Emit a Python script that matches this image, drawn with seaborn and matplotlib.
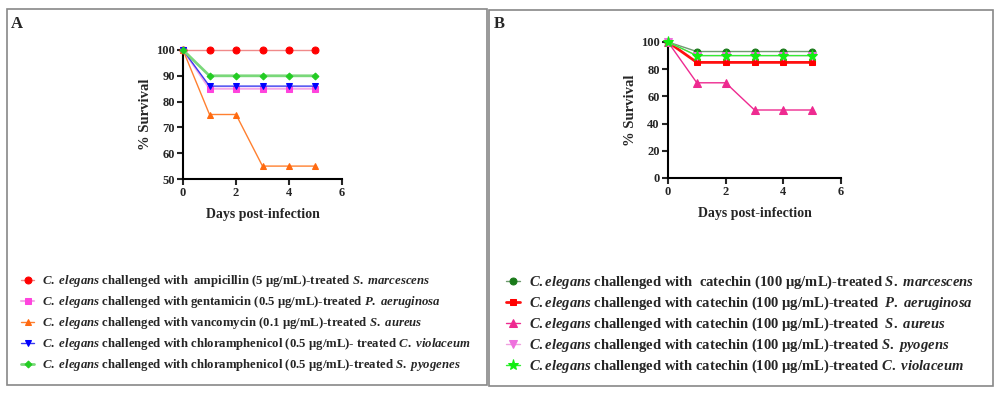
import pandas as pd
import seaborn as sns
import matplotlib.pyplot as plt
from matplotlib.patches import Rectangle

sns.set_style("white")
plt.rcParams['font.family'] = ['Liberation Serif', 'DejaVu Serif']
plt.rcParams['font.weight'] = 'bold'
plt.rcParams['mathtext.fontset'] = 'custom'
plt.rcParams['mathtext.rm'] = 'Liberation Serif:bold'
plt.rcParams['mathtext.it'] = 'Liberation Serif:italic:bold'

days = [0, 1, 2, 3, 4, 5]

# Panel A: antibiotic-treated pathogens
a_ampicillin = [100, 100, 100, 100, 100, 100]
a_gentamicin = [100, 85, 85, 85, 85, 85]
a_vancomycin = [100, 75, 75, 55, 55, 55]
a_chloram_cv = [100, 86, 86, 86, 86, 86]
a_chloram_sp = [100, 90, 90, 90, 90, 90]

a_labels = [
    r"$\mathit{C.\ elegans}$ challenged with  ampicillin (5 µg/mL)-treated $\mathit{S.\ marcescens}$",
    r"$\mathit{C.\ elegans}$ challenged with gentamicin (0.5 µg/mL)-treated $\mathit{P.\ aeruginosa}$",
    r"$\mathit{C.\ elegans}$ challenged with vancomycin (0.1 µg/mL)-treated $\mathit{S.\ aureus}$",
    r"$\mathit{C.\ elegans}$ challenged with chloramphenicol (0.5 µg/mL)- treated $\mathit{C.\ violaceum}$",
    r"$\mathit{C.\ elegans}$ challenged with chloramphenicol (0.5 µg/mL)-treated $\mathit{S.\ pyogenes}$",
]

# Panel B: catechin-treated pathogens
b_sm = [100, 93, 93, 93, 93, 93]
b_pa = [100, 85, 85, 85, 85, 85]
b_sa = [100, 70, 70, 50, 50, 50]
b_sp = [100, 90, 90, 90, 90, 90]
b_cv = [100, 90, 90, 90, 90, 90]

b_labels = [
    r"$\mathit{C.elegans}$ challenged with  catechin (100 µg/mL)-treated $\mathit{S.\ marcescens}$",
    r"$\mathit{C.elegans}$ challenged with catechin (100 µg/mL)-treated  $\mathit{P.\ aeruginosa}$",
    r"$\mathit{C.elegans}$ challenged with catechin (100 µg/mL)-treated  $\mathit{S.\ aureus}$",
    r"$\mathit{C.elegans}$ challenged with catechin (100 µg/mL)-treated $\mathit{S.\ pyogens}$",
    r"$\mathit{C.elegans}$ challenged with catechin (100 µg/mL)-treated $\mathit{C.\ violaceum}$",
]

# (values, line colour, marker colour, marker, marker size, line width)
a_series = [
    (a_ampicillin, '#f08a8a', '#ff0000', 'o', 5, 1.0),
    (a_gentamicin, '#f5a8e8', '#ff44dd', 's', 5, 1.5),
    (a_vancomycin, '#ff8030', '#ff6a10', '^', 4, 1.0),
    (a_chloram_cv, '#3a3af0', '#0000ff', 'v', 4, 1.0),
    (a_chloram_sp, '#7ad87a', '#22cc22', 'D', 3.5, 2.0),
]
b_series = [
    (b_sm, '#6f9a6f', '#1a7a1a', 'o', 5, 1.0),
    (b_pa, '#ff1010', '#ff0000', 's', 5, 2.0),
    (b_sa, '#ee2a90', '#ee2a90', '^', 6, 1.0),
    (b_sp, '#f0a0e0', '#ee70dd', 'v', 6, 1.0),
    (b_cv, '#33ee33', '#11ee11', '*', 8, 1.0),
]

fig = plt.figure(figsize=(10, 3.94), dpi=100)

# panel frames
fig.patches.append(Rectangle((0.007, 0.023), 0.480, 0.954, transform=fig.transFigure,
                             fill=False, edgecolor='#888888', linewidth=1.2))
fig.patches.append(Rectangle((0.489, 0.020), 0.504, 0.955, transform=fig.transFigure,
                             fill=False, edgecolor='#888888', linewidth=1.2))
fig.text(0.011, 0.94, 'A', fontsize=12, fontweight='bold', va='center')
fig.text(0.494, 0.94, 'B', fontsize=12, fontweight='bold', va='center')

ax_a = fig.add_axes([0.183, 1 - 179 / 394, 0.159, 129 / 394])
ax_b = fig.add_axes([0.668, 1 - 178 / 394, 0.173, 136 / 394])


def draw(ax, series, labels):
    for (vals, lc, mc, mk, ms, lw), lab in zip(series, labels):
        df = pd.DataFrame({'day': days, 'survival': vals})
        sns.lineplot(data=df, x='day', y='survival', ax=ax, color=lc, linewidth=lw,
                     marker=mk, markersize=ms, markerfacecolor=mc, markeredgecolor=mc,
                     label=lab, clip_on=False, zorder=3)
    ax.set_xlim(0, 6)
    ax.set_xticks([0, 2, 4, 6])
    ax.set_xlabel('Days post-infection', fontsize=10, fontweight='bold', labelpad=6)
    ax.set_ylabel('% Survival', fontsize=10.5, fontweight='bold', labelpad=3)
    for s in ['top', 'right']:
        ax.spines[s].set_visible(False)
    for s in ['left', 'bottom']:
        ax.spines[s].set_linewidth(1.5)
        ax.spines[s].set_color('black')
    ax.tick_params(axis='both', direction='out', length=4, width=1.5, labelsize=9,
                   pad=2, left=True, bottom=True)
    for t in ax.get_xticklabels() + ax.get_yticklabels():
        t.set_fontweight('bold')
    ax.get_legend().remove()


draw(ax_a, a_series, a_labels)
ax_a.set_ylim(50, 100)
ax_a.set_yticks([50, 60, 70, 80, 90, 100])

draw(ax_b, b_series, b_labels)
ax_b.set_ylim(0, 100)
ax_b.set_yticks([0, 20, 40, 60, 80, 100])

h, l = ax_a.get_legend_handles_labels()
fig.legend(h, l, loc='upper left', bbox_to_anchor=(0.016, 0.320), frameon=False,
           fontsize=9.2, handlelength=1.0, handletextpad=0.6, labelspacing=0.395,
           borderaxespad=0)

h, l = ax_b.get_legend_handles_labels()
fig.legend(h, l, loc='upper left', bbox_to_anchor=(0.500, 0.320), frameon=False,
           fontsize=10.5, handlelength=1.0, handletextpad=0.6, labelspacing=0.25,
           borderaxespad=0)

fig.savefig('out.png', dpi=100)
